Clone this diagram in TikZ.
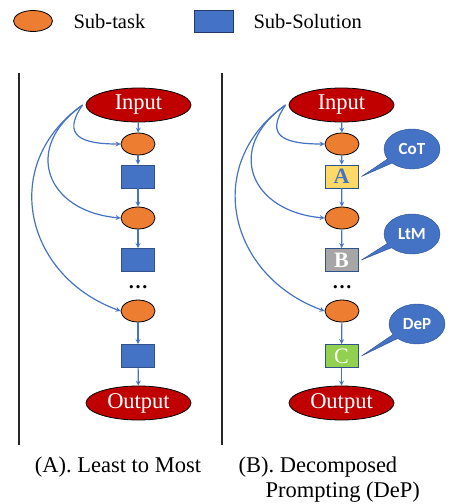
\documentclass[tikz,border=0pt]{standalone}
\usepackage{fontspec}
\setmainfont{Liberation Serif}
\newfontfamily\calloutfont{Carlito}
\usetikzlibrary{arrows,shapes.geometric,shapes.callouts}

\definecolor{inred}{HTML}{C00000}
\definecolor{taskorange}{HTML}{ED7D31}
\definecolor{solblue}{HTML}{4472C4}
\definecolor{soledge}{HTML}{2F528F}
\definecolor{cotyellow}{HTML}{FFD966}
\definecolor{ltmgray}{HTML}{A6A6A6}
\definecolor{depgreen}{HTML}{92D050}

\begin{document}
\begin{tikzpicture}[x=1pt,y=-1pt,
    io/.style={ellipse,draw=black,thick,fill=inred,text=white,inner sep=0pt,
      minimum width=105pt,minimum height=34pt,font=\fontsize{22.5}{24}\selectfont},
    subtask/.style={ellipse,draw=black,thick,fill=taskorange,inner sep=0pt,
      minimum width=34pt,minimum height=22pt},
    subsol/.style={rectangle,draw=soledge,thick,fill=solblue,inner sep=0pt,
      minimum width=33pt,minimum height=23pt,font=\fontsize{22}{22}\selectfont},
    bubble/.style={ellipse callout,draw=soledge,fill=solblue,text=white,inner sep=0pt,
      minimum width=56pt,minimum height=40pt,font=\calloutfont\bfseries\fontsize{17}{17}\selectfont},
    flow/.style={->,>=stealth,solblue,line width=1.2pt},
    dots/.style={inner sep=0pt,font=\fontsize{20}{20}\selectfont\bfseries},
    legendtxt/.style={anchor=west,font=\fontsize{20.5}{22}\selectfont},
    captxt/.style={font=\fontsize{22.5}{25}\selectfont}]
  \useasboundingbox (0,0) rectangle (454,504);

  % legend
  \node[subtask,minimum width=39pt,minimum height=21pt] (legtask) at (33,21) {};
  \node[legendtxt] (legtasktxt) at (70,21) {Sub-task};
  \node[subsol,minimum width=39pt,minimum height=22pt,draw=soledge!70!black] (legsol) at (213.5,21) {};
  \node[legendtxt] (legsoltxt) at (250,21) {Sub-Solution};

  % panel separators
  \draw[line width=2pt,black!85] (19,73) -- (19,445);
  \draw[line width=2pt,black!85] (222,73) -- (222,445);

  % (A) least to most
  \node[io] (inL) at (138.5,105) {Input};
  \node[subtask] (stL1) at (138,144) {};
  \node[subsol] (solL1) at (138,176.5) {};
  \node[subtask] (stL2) at (138,218) {};
  \node[subsol] (solL2) at (138,260) {};
  \node[dots] (dotsL) at (138,287) {\ldots};
  \node[subtask] (stL3) at (138,311) {};
  \node[subsol] (solL3) at (138,356) {};
  \node[io] (outL) at (138.5,403) {Output};

  \draw[flow] (inL) -- (stL1);
  \draw[flow] (stL1) -- (solL1);
  \draw[flow] (solL1) -- (stL2);
  \draw[flow] (stL2) -- (solL2);
  \draw[flow] (stL3) -- (solL3);
  \draw[flow] (solL3) -- (outL);
  \draw[flow] ([xshift=-3pt]inL.west) to[out=235,in=180,looseness=1.8] (stL1.west);
  \draw[flow] ([xshift=-3pt]inL.west) to[out=215,in=175,looseness=1.6] (stL2.west);
  \draw[flow] ([xshift=-3pt]inL.west) to[out=215,in=160,looseness=1.25] (stL3.west);

  \node[captxt] (capA) at (118,467) {(A). Least to Most};

  % (B) decomposed prompting
  \node[io] (inR) at (341.5,105) {Input};
  \node[subtask] (stR1) at (342,144) {};
  \node[subsol,fill=cotyellow,text=solblue] (solA) at (341.5,176.5) {\textbf{A}};
  \node[subtask] (stR2) at (342,218) {};
  \node[subsol,fill=ltmgray,text=white] (solB) at (341.5,260) {\textbf{B}};
  \node[dots] (dotsR) at (342,287) {\ldots};
  \node[subtask] (stR3) at (342,311) {};
  \node[subsol,fill=depgreen,text=white] (solC) at (341.5,356) {C};
  \node[io] (outR) at (341.5,403) {Output};

  \draw[flow] (inR) -- (stR1);
  \draw[flow] (stR1) -- (solA);
  \draw[flow] (solA) -- (stR2);
  \draw[flow] (stR2) -- (solB);
  \draw[flow] (stR3) -- (solC);
  \draw[flow] (solC) -- (outR);
  \draw[flow] ([xshift=-3pt]inR.west) to[out=235,in=180,looseness=1.8] (stR1.west);
  \draw[flow] ([xshift=-3pt]inR.west) to[out=215,in=175,looseness=1.6] (stR2.west);
  \draw[flow] ([xshift=-3pt]inR.west) to[out=215,in=160,looseness=1.25] (stR3.west);

  \node[bubble,callout absolute pointer={([xshift=3pt]solA.east)}] (cot) at (412,149) {CoT};
  \node[bubble,callout absolute pointer={([xshift=3pt]solB.east)}] (ltm) at (412,234) {LtM};
  \node[bubble,callout absolute pointer={([xshift=3pt]solC.east)}] (dep) at (417,324) {DeP};

  \node[captxt,align=left,anchor=west] (capB) at (235,479.5)
    {(B). Decomposed\\\hspace*{27pt}Prompting (DeP)};
\end{tikzpicture}
\end{document}
